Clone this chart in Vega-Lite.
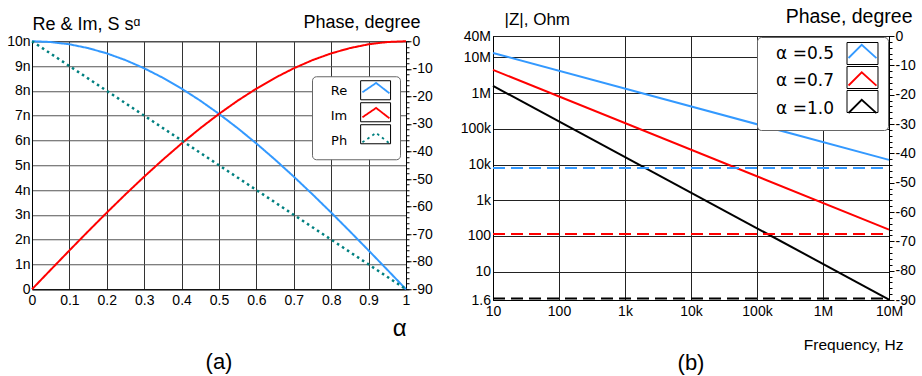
{
  "$schema": "https://vega.github.io/schema/vega-lite/v6.json",
  "background": "white",
  "padding": {"left": 6, "top": 5, "right": 0, "bottom": 0},
  "spacing": 26,
  "center": true,
  "resolve": {"scale": {"color": "independent", "strokeDash": "independent", "shape": "independent"}, "legend": {"color": "independent", "strokeDash": "independent", "shape": "independent"}},
  "config": {
    "view": {"stroke": "black", "strokeWidth": 1},
    "axis": {"labelFont": "Liberation Sans", "labelFontSize": 14, "labelColor": "black", "titleColor": "black", "titleFont": "Liberation Sans", "titleFontWeight": "normal", "domainColor": "black", "tickColor": "black", "labelFlush": false, "labelOverlap": false},
    "legend": {"labelFont": "DejaVu Sans", "labelColor": "black"},
    "title": {"font": "Liberation Sans", "fontWeight": "normal", "color": "black"}
  },
  "datasets": {
    "reim": [
      {"a": 0, "v": 10, "s": "Re"}, {"a": 0.05, "v": 9.969, "s": "Re"}, {"a": 0.1, "v": 9.877, "s": "Re"}, {"a": 0.15, "v": 9.724, "s": "Re"}, {"a": 0.2, "v": 9.511, "s": "Re"}, {"a": 0.25, "v": 9.239, "s": "Re"}, {"a": 0.3, "v": 8.91, "s": "Re"}, {"a": 0.35, "v": 8.526, "s": "Re"}, {"a": 0.4, "v": 8.09, "s": "Re"}, {"a": 0.45, "v": 7.604, "s": "Re"}, {"a": 0.5, "v": 7.071, "s": "Re"}, {"a": 0.55, "v": 6.494, "s": "Re"}, {"a": 0.6, "v": 5.878, "s": "Re"}, {"a": 0.65, "v": 5.225, "s": "Re"}, {"a": 0.7, "v": 4.54, "s": "Re"}, {"a": 0.75, "v": 3.827, "s": "Re"}, {"a": 0.8, "v": 3.09, "s": "Re"}, {"a": 0.85, "v": 2.334, "s": "Re"}, {"a": 0.9, "v": 1.564, "s": "Re"}, {"a": 0.95, "v": 0.785, "s": "Re"}, {"a": 1, "v": 0, "s": "Re"},
      {"a": 0, "v": 0, "s": "Im"}, {"a": 0.05, "v": 0.785, "s": "Im"}, {"a": 0.1, "v": 1.564, "s": "Im"}, {"a": 0.15, "v": 2.334, "s": "Im"}, {"a": 0.2, "v": 3.09, "s": "Im"}, {"a": 0.25, "v": 3.827, "s": "Im"}, {"a": 0.3, "v": 4.54, "s": "Im"}, {"a": 0.35, "v": 5.225, "s": "Im"}, {"a": 0.4, "v": 5.878, "s": "Im"}, {"a": 0.45, "v": 6.494, "s": "Im"}, {"a": 0.5, "v": 7.071, "s": "Im"}, {"a": 0.55, "v": 7.604, "s": "Im"}, {"a": 0.6, "v": 8.09, "s": "Im"}, {"a": 0.65, "v": 8.526, "s": "Im"}, {"a": 0.7, "v": 8.91, "s": "Im"}, {"a": 0.75, "v": 9.239, "s": "Im"}, {"a": 0.8, "v": 9.511, "s": "Im"}, {"a": 0.85, "v": 9.724, "s": "Im"}, {"a": 0.9, "v": 9.877, "s": "Im"}, {"a": 0.95, "v": 9.969, "s": "Im"}, {"a": 1, "v": 10, "s": "Im"}
    ],
    "ph": [{"a": 0, "p": 0, "s": "Ph"}, {"a": 1, "p": -90, "s": "Ph"}],
    "zmag": [
      {"f": 10, "z": 13400000, "a": "α =0.5"}, {"f": 10000000, "z": 13500, "a": "α =0.5"},
      {"f": 10, "z": 4500000, "a": "α =0.7"}, {"f": 10000000, "z": 150, "a": "α =0.7"},
      {"f": 10, "z": 1600000, "a": "α =1.0"}, {"f": 10000000, "z": 1.65, "a": "α =1.0"}
    ],
    "zph": [
      {"f": 10, "p": -45, "a": "α =0.5"}, {"f": 10000000, "p": -45, "a": "α =0.5"},
      {"f": 10, "p": -67.5, "a": "α =0.7"}, {"f": 10000000, "p": -67.5, "a": "α =0.7"},
      {"f": 10, "p": -89.5, "a": "α =1.0"}, {"f": 10000000, "p": -89.5, "a": "α =1.0"}
    ]
  },
  "hconcat": [
    {
      "width": 374,
      "height": 248,
      "title": {"text": "(a)", "orient": "bottom", "fontSize": 22, "offset": 12},
      "encoding": {
        "x": {"field": "a", "type": "quantitative", "scale": {"domain": [0, 1], "nice": false},
          "axis": {"values": [0, 0.1, 0.2, 0.3, 0.4, 0.5, 0.6, 0.7, 0.8, 0.9, 1], "labelExpr": "format(datum.value, '.1~f')", "grid": true, "gridColor": "#333", "ticks": false, "labelPadding": 4, "title": "α", "titleFontSize": 24, "titleX": 374, "titleY": 46, "titleAlign": "right", "titleBaseline": "alphabetic"}}
      },
      "layer": [
        {
          "data": {"name": "reim"},
          "mark": {"type": "line", "strokeWidth": 2},
          "encoding": {
            "y": {"field": "v", "type": "quantitative", "scale": {"domain": [0, 10], "nice": false},
              "axis": {"values": [0, 1, 2, 3, 4, 5, 6, 7, 8, 9, 10], "labelExpr": "datum.value == 0 ? '0' : datum.value + 'n'", "grid": true, "gridColor": "#555", "ticks": false, "labelPadding": 2, "title": "Re & Im, S sᵅ", "titleAngle": 0, "titleX": 0, "titleY": -12, "titleAlign": "left", "titleBaseline": "alphabetic", "titleFontSize": 18}},
            "color": {"field": "s", "type": "nominal", "scale": {"domain": ["Re", "Im", "Ph"], "range": ["#3399ff", "#ff0000", "#008080"]},
              "legend": {"title": "\u2003", "titleOrient": "left", "titleFontSize": 13, "titlePadding": 49.6, "orient": "none", "legendX": 280, "legendY": 35, "zindex": 1, "symbolType": "M-1.76,-1.12M1.76,1.12M-1.61,0.18L0,-0.92L1.57,0.3", "symbolSize": 289, "symbolStrokeWidth": 1.8, "symbolFillColor": "transparent", "labelFontSize": 13, "labelAlign": "right", "labelOffset": -38.4, "padding": 5, "strokeColor": "#666", "fillColor": "white", "cornerRadius": 4, "rowPadding": -2}},
            "strokeDash": {"field": "s", "type": "nominal", "scale": {"domain": ["Re", "Im", "Ph"], "range": [[1, 0], [1, 0], [2.5, 3.5]]},
              "legend": {"title": "\u2003", "titleOrient": "left", "titleFontSize": 13, "titlePadding": 49.6, "orient": "none", "legendX": 280, "legendY": 35, "zindex": 1, "symbolType": "M-1.76,-1.12M1.76,1.12M-1.61,0.18L0,-0.92L1.57,0.3", "symbolSize": 289, "symbolStrokeWidth": 1.8, "symbolFillColor": "transparent", "labelFontSize": 13, "labelAlign": "right", "labelOffset": -38.4, "padding": 5, "strokeColor": "#666", "fillColor": "white", "cornerRadius": 4, "rowPadding": -2}}
          }
        },
        {
          "data": {"name": "ph"},
          "mark": {"type": "line", "strokeWidth": 2.5},
          "encoding": {
            "y": {"field": "p", "type": "quantitative", "scale": {"domain": [-90, 0], "nice": false},
              "axis": {"orient": "right", "values": [0, -10, -20, -30, -40, -50, -60, -70, -80, -90], "labelExpr": "datum.value == 0 ? '0' : '-' + abs(datum.value)", "grid": false, "tickSize": 5, "labelPadding": 1, "title": "Phase, degree", "titleAngle": 0, "titleX": 14, "titleY": -14, "titleAlign": "right", "titleBaseline": "alphabetic", "titleFontSize": 18}},
            "color": {"field": "s", "type": "nominal", "scale": {"domain": ["Re", "Im", "Ph"], "range": ["#3399ff", "#ff0000", "#008080"]}},
            "strokeDash": {"field": "s", "type": "nominal", "scale": {"domain": ["Re", "Im", "Ph"], "range": [[1, 0], [1, 0], [2.5, 3.5]]}}
          }
        },
        {
          "data": {"name": "ph"},
          "mark": {"type": "line", "opacity": 0},
          "encoding": {
            "y": {"field": "p", "type": "quantitative", "scale": {"domain": [-90, 0], "nice": false},
              "axis": {"orient": "right", "values": [0, -2, -4, -6, -8, -10, -12, -14, -16, -18, -20, -22, -24, -26, -28, -30, -32, -34, -36, -38, -40, -42, -44, -46, -48, -50, -52, -54, -56, -58, -60, -62, -64, -66, -68, -70, -72, -74, -76, -78, -80, -82, -84, -86, -88, -90], "labels": false, "domain": false, "grid": false, "tickSize": 3, "title": null}}
          }
        },
        {
          "data": {"name": "ph"},
          "mark": {"type": "point", "opacity": 0, "color": "black", "filled": false, "strokeWidth": 1},
          "encoding": {
            "shape": {"field": "s", "type": "nominal", "scale": {"domain": ["Re ", "Im ", "Ph "], "range": ["M-1.76,-1.12H1.76V1.12H-1.76Z", "M-1.76,-1.12H1.76V1.12H-1.76Z", "M-1.76,-1.12H1.76V1.12H-1.76Z"]},
              "legend": {"title": "\u2003", "titleOrient": "left", "titleFontSize": 13, "titlePadding": 49.6, "orient": "none", "legendX": 280, "legendY": 35, "zindex": 2, "symbolSize": 289, "symbolStrokeWidth": 1, "symbolStrokeColor": "black", "symbolOpacity": 1, "symbolFillColor": "transparent", "labelFontSize": 13, "labelAlign": "right", "labelOffset": -38.4, "labelOpacity": 0, "padding": 5, "strokeColor": null, "fillColor": null, "rowPadding": -2}}
          }
        }
      ],
      "resolve": {"scale": {"y": "independent"}}
    },
    {
      "width": 396,
      "height": 264,
      "title": {"text": ["(b)", ""], "lineHeight": 5, "orient": "bottom", "fontSize": 22, "offset": 0},
      "encoding": {
        "x": {"field": "f", "type": "quantitative", "scale": {"type": "log", "domain": [10, 10000000], "nice": false},
          "axis": {"values": [10, 100, 1000, 10000, 100000, 1000000, 10000000], "labelExpr": "datum.value >= 1e6 ? format(datum.value/1e6, '~g') + 'M' : datum.value >= 1e3 ? format(datum.value/1e3, '~g') + 'k' : format(datum.value, '~g')", "grid": true, "gridColor": "#222", "ticks": false, "labelPadding": 4, "title": "Frequency, Hz", "titleFontSize": 15.5, "titleX": 410, "titleY": 49, "titleAlign": "right", "titleBaseline": "alphabetic"}}
      },
      "layer": [
        {
          "data": {"name": "zmag"},
          "mark": {"type": "line", "strokeWidth": 2},
          "encoding": {
            "y": {"field": "z", "type": "quantitative", "scale": {"type": "log", "domain": [1.6, 40000000], "nice": false},
              "axis": {"values": [1.6, 10, 100, 1000, 10000, 100000, 1000000, 10000000, 40000000], "labelExpr": "datum.value >= 1e6 ? format(datum.value/1e6, '~g') + 'M' : datum.value >= 1e3 ? format(datum.value/1e3, '~g') + 'k' : format(datum.value, '~g')", "grid": true, "gridColor": "#222", "ticks": false, "labelPadding": 2.5, "title": "|Z|, Ohm", "titleAngle": 0, "titleX": 11, "titleY": -12, "titleAlign": "left", "titleBaseline": "alphabetic", "titleFontSize": 17}},
            "color": {"field": "a", "type": "nominal", "scale": {"domain": ["α =0.5", "α =0.7", "α =1.0"], "range": ["#3399ff", "#ff0000", "#000000"]},
              "legend": {"title": "\u2003", "titleOrient": "left", "titleFontSize": 17, "titlePadding": 89, "orient": "none", "legendX": 264, "legendY": 1, "zindex": 1, "symbolType": "M-1.62,-1.15M1.62,1.15M-1.46,0.47L-0.08,-0.91L1.46,0.49", "symbolSize": 366, "symbolStrokeWidth": 1.8, "symbolFillColor": "transparent", "labelFontSize": 17, "labelAlign": "right", "labelOffset": -39, "padding": 6, "strokeColor": "#666", "fillColor": "white", "cornerRadius": 4, "rowPadding": -3.5}}
          }
        },
        {
          "data": {"name": "zph"},
          "mark": {"type": "line", "strokeWidth": 2, "strokeDash": [12, 6]},
          "encoding": {
            "y": {"field": "p", "type": "quantitative", "scale": {"domain": [-90, 0], "nice": false},
              "axis": {"orient": "right", "values": [0, -10, -20, -30, -40, -50, -60, -70, -80, -90], "labelExpr": "datum.value == 0 ? '0' : '-' + abs(datum.value)", "grid": false, "tickSize": 5, "labelPadding": 1, "title": "Phase, degree", "titleAngle": 0, "titleX": 23, "titleY": -14, "titleAlign": "right", "titleBaseline": "alphabetic", "titleFontSize": 19.5}},
            "color": {"field": "a", "type": "nominal", "scale": {"domain": ["α =0.5", "α =0.7", "α =1.0"], "range": ["#3399ff", "#ff0000", "#000000"]}}
          }
        },
        {
          "data": {"name": "zph"},
          "mark": {"type": "line", "opacity": 0},
          "encoding": {
            "y": {"field": "p", "type": "quantitative", "scale": {"domain": [-90, 0], "nice": false},
              "axis": {"orient": "right", "values": [0, -2, -4, -6, -8, -10, -12, -14, -16, -18, -20, -22, -24, -26, -28, -30, -32, -34, -36, -38, -40, -42, -44, -46, -48, -50, -52, -54, -56, -58, -60, -62, -64, -66, -68, -70, -72, -74, -76, -78, -80, -82, -84, -86, -88, -90], "labels": false, "domain": false, "grid": false, "tickSize": 3, "title": null}}
          }
        },
        {
          "data": {"name": "zph"},
          "mark": {"type": "point", "opacity": 0, "color": "black", "filled": false, "strokeWidth": 1},
          "encoding": {
            "shape": {"field": "a", "type": "nominal", "scale": {"domain": ["α =0.5 ", "α =0.7 ", "α =1.0 "], "range": ["M-1.62,-1.15H1.62V1.15H-1.62Z", "M-1.62,-1.15H1.62V1.15H-1.62Z", "M-1.62,-1.15H1.62V1.15H-1.62Z"]},
              "legend": {"title": "\u2003", "titleOrient": "left", "titleFontSize": 17, "titlePadding": 89, "orient": "none", "legendX": 264, "legendY": 1, "zindex": 2, "symbolSize": 366, "symbolStrokeWidth": 1, "symbolStrokeColor": "black", "symbolOpacity": 1, "symbolFillColor": "transparent", "labelFontSize": 17, "labelAlign": "right", "labelOffset": -39, "labelOpacity": 0, "padding": 6, "strokeColor": null, "fillColor": null, "rowPadding": -3.5}}
          }
        }
      ],
      "resolve": {"scale": {"y": "independent"}}
    }
  ]
}
